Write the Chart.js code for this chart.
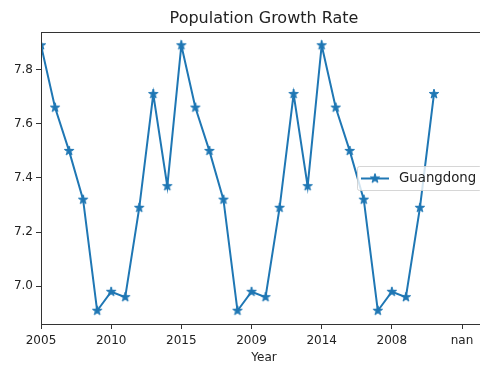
<!DOCTYPE html>
<html>
<head>
<meta charset="utf-8">
<title>Population Growth Rate</title>
<script src="https://cdn.jsdelivr.net/npm/chart.js@4/dist/chart.umd.min.js"></script>
<style>
  html, body { margin: 0; padding: 0; background: #fff; overflow: hidden; }
  #wrap { width: 480px; height: 367px; overflow: hidden; position: relative; }
  #box { width: 500px; height: 367px; }
</style>
</head>
<body>
<div id="wrap"><div id="box"><canvas id="c"></canvas></div></div>
<script>
// Series values, one per row of the table (x = row position)
const growthRate = [
  7.89, 7.66, 7.50, 7.32, 6.91, 6.98, 6.96, 7.29, 7.71, 7.37,
  7.89, 7.66, 7.50, 7.32, 6.91, 6.98, 6.96, 7.29, 7.71, 7.37,
  7.89, 7.66, 7.50, 7.32, 6.91, 6.98, 6.96, 7.29, 7.71
];
const seriesName = 'Guangdong';

// Tick positions and the labels shown under them
const xTickPositions = [0, 5, 10, 15, 20, 25, 30];
const xTickLabels = ['2005', '2010', '2015', '2009', '2014', '2008', 'nan'];
const yTickValues = [7.0, 7.2, 7.4, 7.6, 7.8];

const X_MAX = 31.78;
const Y_MIN = 6.861, Y_MAX = 7.939;

const BLUE = '#1f77b4';
const FONT = 'DejaVu Sans';
const TEXT = '#222';
const SPINE = '#333';

// Filled five-pointed star used as the marker
function starImage(r, color) {
  const s = Math.ceil(r * 2) + 2;
  const c = document.createElement('canvas');
  c.width = s; c.height = s;
  const g = c.getContext('2d');
  const inner = r * 0.381966;
  g.beginPath();
  for (let k = 0; k < 10; k++) {
    const rad = k % 2 === 0 ? r : inner;
    const a = -Math.PI / 2 + k * Math.PI / 5;
    const px = s / 2 + rad * Math.cos(a), py = s / 2 + rad * Math.sin(a);
    if (k === 0) g.moveTo(px, py); else g.lineTo(px, py);
  }
  g.closePath();
  g.fillStyle = color; g.fill();
  g.strokeStyle = color; g.lineWidth = 1; g.stroke();
  return c;
}
const star = starImage(5, BLUE);

// Box around the plotting area (all four spines)
const framePlugin = {
  id: 'frame',
  afterDatasetsDraw(chart) {
    const { ctx, chartArea: a } = chart;
    ctx.save();
    ctx.strokeStyle = SPINE;
    ctx.lineWidth = 1;
    ctx.strokeRect(Math.round(a.left) + 0.5, Math.round(a.top) + 0.5,
                   Math.round(a.right - a.left), Math.round(a.bottom - a.top));
    ctx.restore();
  }
};

// Legend box anchored at the right-centre of the plotting area
const legendBoxPlugin = {
  id: 'legendBox',
  afterDraw(chart) {
    const { ctx, chartArea: a } = chart;
    const ds = chart.data.datasets[0];
    const w = 124, h = 24;
    const x = a.right - 6 - w;
    const y = (a.top + a.bottom) / 2 - h / 2;
    ctx.save();
    ctx.beginPath();
    if (ctx.roundRect) ctx.roundRect(x + 0.5, y + 0.5, w, h, 2); else ctx.rect(x + 0.5, y + 0.5, w, h);
    ctx.fillStyle = 'rgba(255,255,255,0.8)';
    ctx.fill();
    ctx.strokeStyle = 'rgba(204,204,204,0.8)';
    ctx.lineWidth = 1;
    ctx.stroke();
    const cy = y + h / 2 + 0.5;
    ctx.beginPath();
    ctx.moveTo(x + 4, cy);
    ctx.lineTo(x + 32, cy);
    ctx.strokeStyle = ds.borderColor;
    ctx.lineWidth = ds.borderWidth;
    ctx.stroke();
    ctx.drawImage(star, x + 18 - star.width / 2, cy - star.height / 2);
    ctx.fillStyle = TEXT;
    ctx.font = '13.3px "' + FONT + '"';
    ctx.textBaseline = 'middle';
    ctx.textAlign = 'left';
    ctx.fillText(ds.label, x + 42, cy);
    ctx.restore();
  }
};

new Chart(document.getElementById('c'), {
  type: 'line',
  data: {
    datasets: [{
      label: seriesName,
      data: growthRate.map((v, i) => ({ x: i, y: v })),
      borderColor: BLUE,
      backgroundColor: BLUE,
      borderWidth: 2,
      pointStyle: star,
      pointRadius: 5,
      pointHoverRadius: 5,
      tension: 0,
      fill: false
    }]
  },
  options: {
    responsive: true,
    maintainAspectRatio: false,
    devicePixelRatio: 1,
    animation: false,
    events: [],
    layout: { padding: { left: 0, right: 13, top: 0, bottom: 0 } },
    plugins: {
      legend: { display: false },
      tooltip: { enabled: false },
      title: {
        display: true,
        text: 'Population Growth Rate',
        fullSize: false,
        color: TEXT,
        font: { family: FONT, size: 16, weight: 'normal', lineHeight: 1.2 },
        padding: { top: 9, bottom: 3.8 }
      }
    },
    scales: {
      x: {
        type: 'linear',
        min: 0,
        max: X_MAX,
        afterBuildTicks(s) { s.ticks = xTickPositions.map(v => ({ value: v })); },
        afterFit(s) { s.height = 43; },
        ticks: {
          autoSkip: false,
          maxRotation: 0,
          padding: 5,
          color: TEXT,
          font: { family: FONT, size: 12 },
          callback: (v) => xTickLabels[xTickPositions.indexOf(v)]
        },
        grid: { drawOnChartArea: false, drawTicks: true, tickLength: 5, tickColor: SPINE, tickWidth: 1 },
        border: { display: false },
        title: {
          display: true,
          text: 'Year',
          color: TEXT,
          font: { family: FONT, size: 12 },
          padding: { top: 0, bottom: 2 }
        }
      },
      y: {
        type: 'linear',
        min: Y_MIN,
        max: Y_MAX,
        afterBuildTicks(s) { s.ticks = yTickValues.map(v => ({ value: v })); },
        afterFit(s) { s.width = 41; },
        ticks: {
          padding: 3,
          color: TEXT,
          font: { family: FONT, size: 12 },
          callback: (v) => v.toFixed(1)
        },
        grid: { drawOnChartArea: false, drawTicks: true, tickLength: 5, tickColor: SPINE, tickWidth: 1 },
        border: { display: false }
      }
    }
  },
  plugins: [framePlugin, legendBoxPlugin]
});
</script>
</body>
</html>
